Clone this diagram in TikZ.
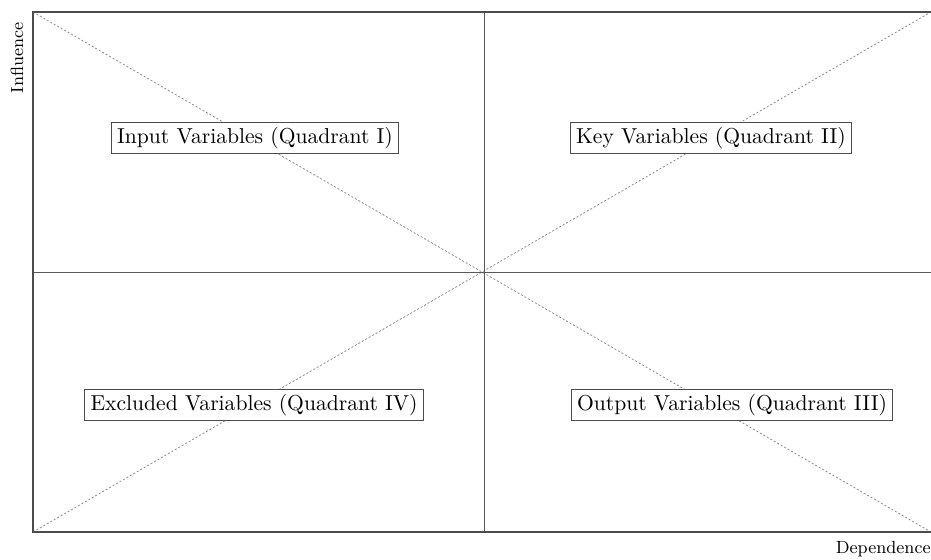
\documentclass[tikz,border=0pt]{standalone}
\begin{document}
\begin{tikzpicture}[x=0.5pt,y=-0.5pt,
  frame/.style={draw=black!70,line width=0.6pt},
  mid/.style={draw=black!65,line width=0.4pt},
  diag/.style={draw=black!45,dash pattern=on 1pt off 1pt,line width=0.4pt},
  quad/.style={draw=black!70,fill=white,line width=0.5pt,inner xsep=3pt,inner ysep=2.5pt,font=\fontsize{10.8}{13}\selectfont},
  axlabel/.style={font=\fontsize{8.8}{10}\selectfont,inner sep=0pt}]
\useasboundingbox (0,0) rectangle (931,560);
\coordinate (tl) at (33,12);
\coordinate (tr) at (931,12);
\coordinate (bl) at (33,532);
\coordinate (br) at (931,532);
\coordinate (tm) at (484,12);
\coordinate (bm) at (484,532);
\coordinate (lm) at (33,272);
\coordinate (rm) at (931,272);
\draw[diag] (tl) -- (br);
\draw[diag] (bl) -- (tr);
\draw[mid] (tm) -- (bm);
\draw[mid] (lm) -- (rm);
\draw[frame] (tr) -- (tl) -- (bl) -- (br);
\node[quad] (q1) at (255,138) {Input Variables (Quadrant I)};
\node[quad] (q2) at (711,138) {Key Variables (Quadrant II)};
\node[quad] (q4) at (254,405) {Excluded Variables (Quadrant IV)};
\node[quad] (q3) at (732,405) {Output Variables (Quadrant III)};
\node[axlabel,rotate=90] (infl) at (17,58) {Influence};
\node[axlabel,anchor=east] (dep) at (931,549) {Dependence};
\end{tikzpicture}
\end{document}
